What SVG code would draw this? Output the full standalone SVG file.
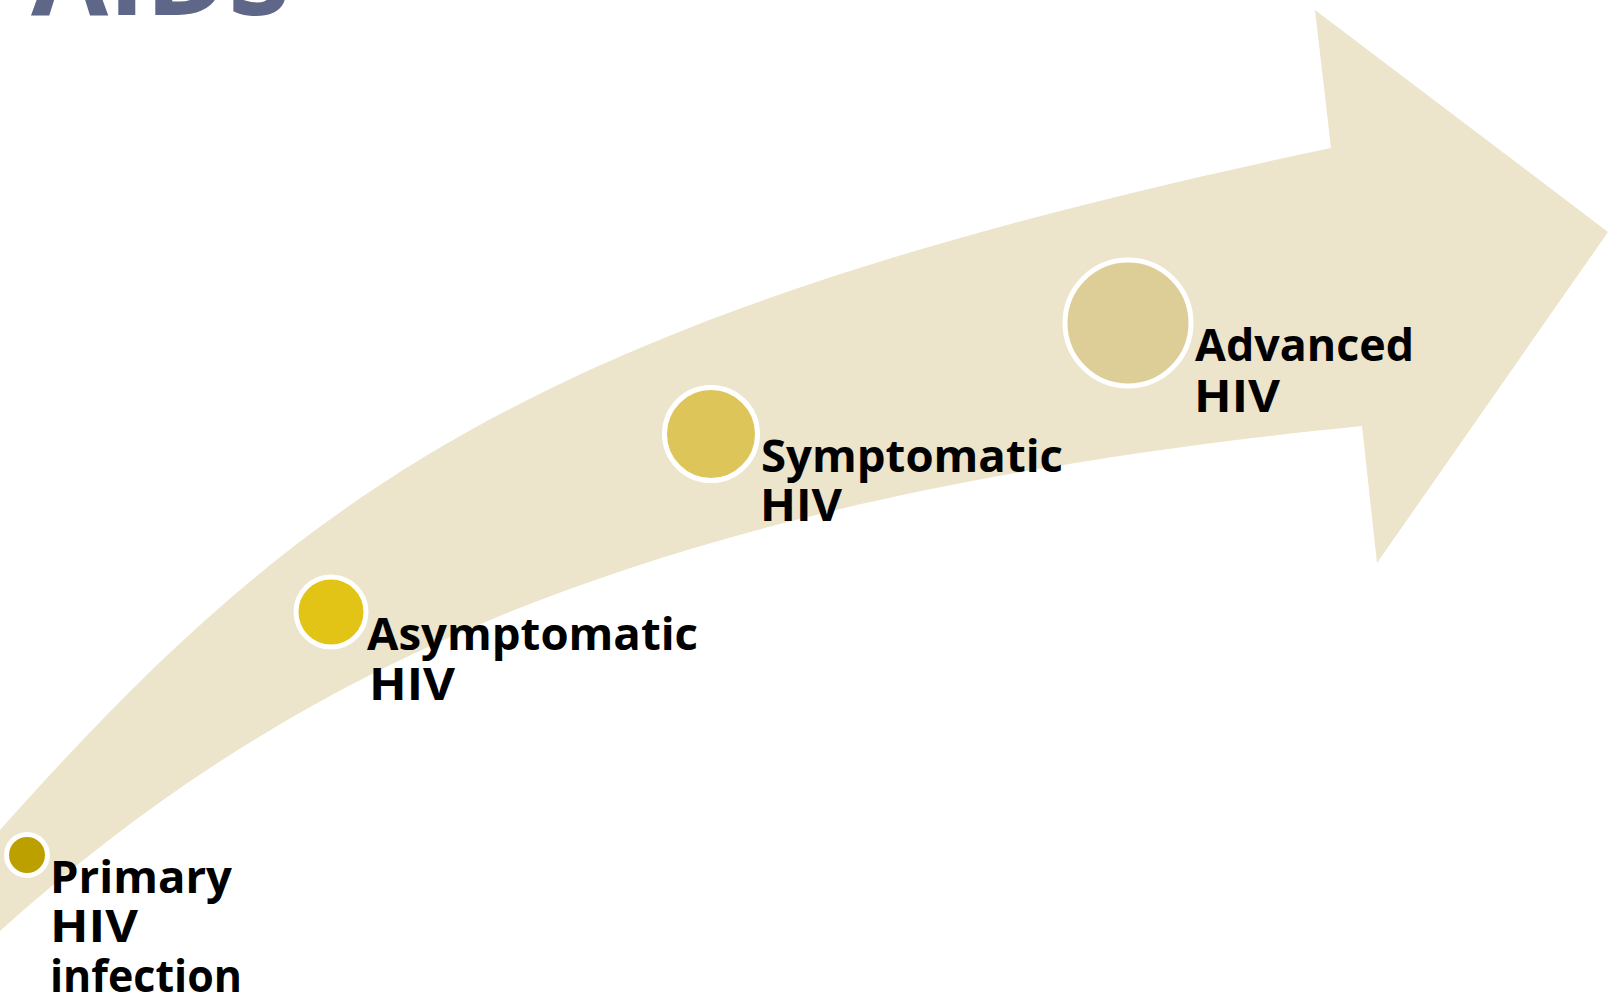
<svg xmlns="http://www.w3.org/2000/svg" width="1614" height="999" viewBox="0 0 1614 999">
<style>
.lbl{font-family:"Open Sans","Liberation Sans",sans-serif;font-weight:700;font-size:45px;fill:#000000}
.ring{stroke:#ffffff;stroke-width:5}
.title{font-family:"Open Sans","Liberation Sans",sans-serif;font-weight:700;font-size:108px;fill:#5e6788}
</style>
<rect width="1614" height="999" fill="#ffffff"/>
<text class="title" x="31" y="15" textLength="259" lengthAdjust="spacingAndGlyphs">AIDS</text>
<g id="connectors">
<path id="arrow" fill="#ece4cb" d="M1331,148 L1315,10 L1608,232 L1377,563 L1362,426 C662,496 300,661 0,931 L-10,940 L-10,836 L0,830 C300,494 531,316 1331,148 Z"/>
</g>
<g id="node-primary">
<circle class="ring" cx="27" cy="855" r="20.5" fill="#bca000"/>
<text class="lbl" x="50" y="893" textLength="182" lengthAdjust="spacingAndGlyphs">Primary</text>
<text class="lbl" x="50" y="942" textLength="88" lengthAdjust="spacingAndGlyphs">HIV</text>
<text class="lbl" x="50" y="992" textLength="192" lengthAdjust="spacingAndGlyphs">infection</text>
</g>
<g id="node-asymptomatic">
<circle class="ring" cx="331" cy="612" r="35" fill="#e2c417"/>
<text class="lbl" x="367" y="650" textLength="331" lengthAdjust="spacingAndGlyphs">Asymptomatic</text>
<text class="lbl" x="369" y="700" textLength="86" lengthAdjust="spacingAndGlyphs">HIV</text>
</g>
<g id="node-symptomatic">
<circle class="ring" cx="711" cy="434" r="46.5" fill="#dec55a"/>
<text class="lbl" x="761" y="472" textLength="302" lengthAdjust="spacingAndGlyphs">Symptomatic</text>
<text class="lbl" x="760" y="521" textLength="82" lengthAdjust="spacingAndGlyphs">HIV</text>
</g>
<g id="node-advanced">
<circle class="ring" cx="1128" cy="323" r="63" fill="#ddce97" stroke-width="6"/>
<text class="lbl" x="1195" y="361" textLength="219" lengthAdjust="spacingAndGlyphs">Advanced</text>
<text class="lbl" x="1194" y="412" textLength="86" lengthAdjust="spacingAndGlyphs">HIV</text>
</g>
</svg>
